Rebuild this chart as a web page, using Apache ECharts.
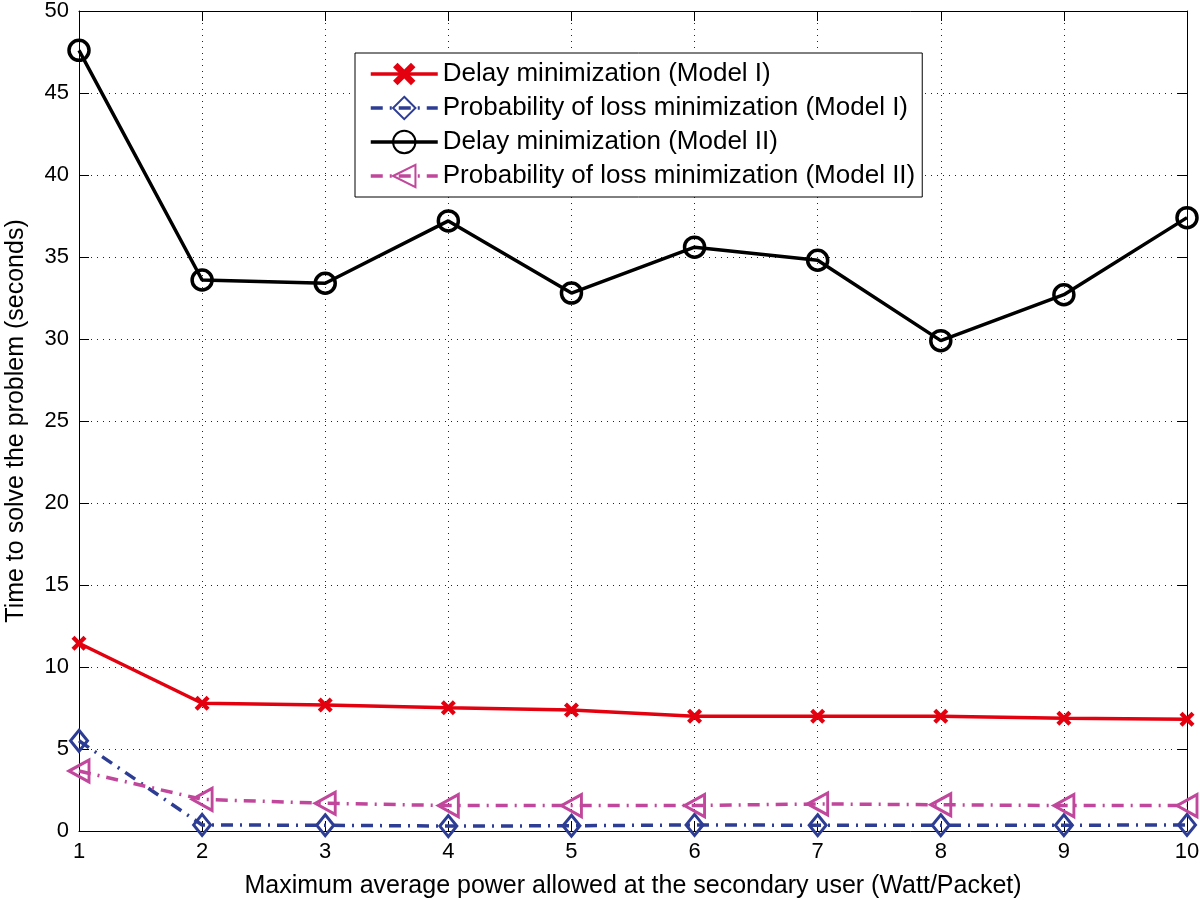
<!DOCTYPE html>
<html>
<head>
<meta charset="utf-8">
<script src="https://cdn.jsdelivr.net/npm/echarts@6/dist/echarts.min.js"></script>
<style>html,body{margin:0;padding:0;background:#fff}#c{width:1200px;height:900px}</style>
</head>
<body>
<div id="c"></div>
<script>
const xValues = [1, 2, 3, 4, 5, 6, 7, 8, 9, 10];
const delayModel1 = [11.45, 7.79, 7.68, 7.52, 7.38, 7.0, 7.0, 7.0, 6.88, 6.82];
const lossModel1 = [5.5, 0.37, 0.35, 0.3, 0.32, 0.37, 0.35, 0.35, 0.35, 0.37];
const delayModel2 = [47.6, 33.6, 33.4, 37.2, 32.8, 35.6, 34.8, 29.9, 32.7, 37.4];
const lossModel2 = [3.66, 1.93, 1.69, 1.55, 1.55, 1.55, 1.65, 1.6, 1.55, 1.55];
const seriesNames = [
  'Delay minimization (Model I)',
  'Probability of loss minimization (Model I)',
  'Delay minimization (Model II)',
  'Probability of loss minimization (Model II)'
];
const xTitle = 'Maximum average power allowed at the secondary user (Watt/Packet)';
const yTitle = 'Time to solve the problem (seconds)';

const pair = arr => xValues.map((x, i) => [x, arr[i]]);
const FONT = '"Liberation Sans", Arial, Helvetica, sans-serif';
const crossPath = 'path://M2,0 L5,3 L8,0 L10,2 L7,5 L10,8 L8,10 L5,7 L2,10 L0,8 L3,5 L0,2 Z';
const dashDot = [12, 7, 2, 7];

const chart = echarts.init(document.getElementById('c'), null, {renderer: 'canvas'});
const axisCommon = {
  axisLine: {show: true, onZero: false, lineStyle: {color: '#000', width: 1}},
  axisTick: {show: true, inside: true, length: 10, lineStyle: {color: '#000'}},
};
chart.setOption({
  animation: false,
  backgroundColor: '#fff',
  textStyle: {fontFamily: FONT, color: '#000'},
  grid: {left: 79, right: 13, top: 11, bottom: 69, containLabel: false, outerBoundsMode: 'none'},
  legend: {
    orient: 'vertical', left: 355, top: 53,
    backgroundColor: '#fff', borderColor: '#000', borderWidth: 1,
    padding: [8, 7, 8, 14],
    itemWidth: 67, itemHeight: 28, itemGap: 8,
    lineStyle: {width: 3.5},
    textStyle: {fontFamily: FONT, fontSize: 26, lineHeight: 26, color: '#000'},
    data: seriesNames
  },
  xAxis: [
    Object.assign({
      type: 'value', min: 1, max: 10, interval: 1, position: 'bottom',
      axisLabel: {fontSize: 22, color: '#000', margin: 10, fontFamily: FONT},
      splitLine: {show: true, lineStyle: {type: [1, 5], color: '#222', width: 1}},
      name: xTitle, nameLocation: 'middle', nameGap: 43,
      nameTextStyle: {fontSize: 25, color: '#000', fontFamily: FONT}
    }, axisCommon),
    Object.assign({
      type: 'value', min: 1, max: 10, interval: 1, position: 'top',
      axisLabel: {show: false}, splitLine: {show: false}
    }, axisCommon)
  ],
  yAxis: [
    Object.assign({
      type: 'value', min: 0, max: 50, interval: 5, position: 'left',
      axisLabel: {fontSize: 22, color: '#000', margin: 10, fontFamily: FONT},
      splitLine: {show: true, lineStyle: {type: [1, 5], color: '#222', width: 1}},
      name: yTitle, nameLocation: 'middle', nameGap: 50,
      nameTextStyle: {fontSize: 25, color: '#000', fontFamily: FONT}
    }, axisCommon),
    Object.assign({
      type: 'value', min: 0, max: 50, interval: 5, position: 'right',
      axisLabel: {show: false}, splitLine: {show: false}
    }, axisCommon)
  ],
  series: [
    {
      name: seriesNames[0], type: 'line', data: pair(delayModel1),
      symbol: crossPath, symbolSize: 15,
      lineStyle: {color: '#e3000f', width: 3.5},
      itemStyle: {color: '#e3000f'}
    },
    {
      name: seriesNames[1], type: 'line', data: pair(lossModel1),
      symbol: 'diamond', symbolSize: [17, 21],
      lineStyle: {color: '#2e3d94', width: 3.5, type: dashDot},
      itemStyle: {color: 'rgba(0,0,0,0)', borderColor: '#2e3d94', borderWidth: 3}
    },
    {
      name: seriesNames[2], type: 'line', data: pair(delayModel2),
      symbol: 'circle', symbolSize: 20,
      lineStyle: {color: '#000', width: 3.5},
      itemStyle: {color: 'rgba(0,0,0,0)', borderColor: '#000', borderWidth: 3.5}
    },
    {
      name: seriesNames[3], type: 'line', data: pair(lossModel2),
      symbol: 'triangle', symbolRotate: 90, symbolSize: [22, 20],
      lineStyle: {color: '#c0479b', width: 3.5, type: dashDot},
      itemStyle: {color: 'rgba(0,0,0,0)', borderColor: '#c0479b', borderWidth: 3}
    }
  ]
});
</script>
</body>
</html>
